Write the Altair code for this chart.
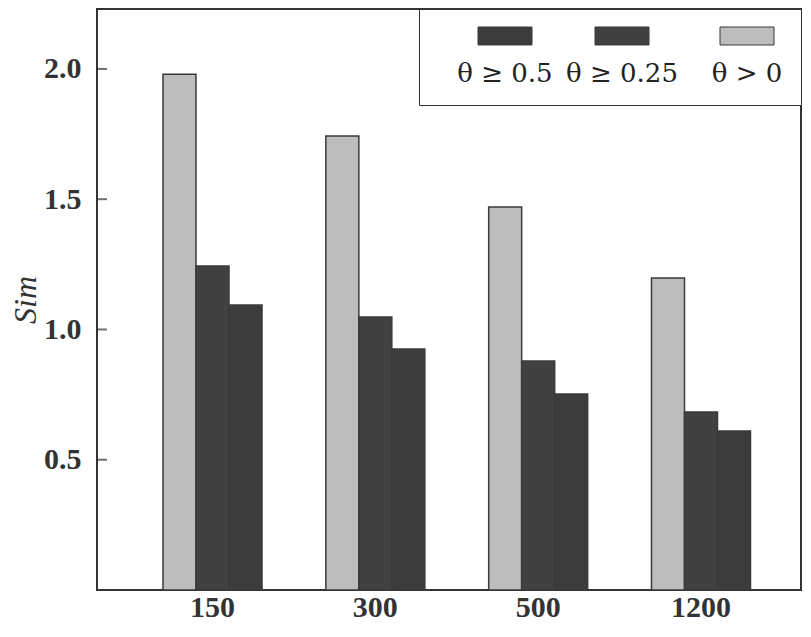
import altair as alt
import pandas as pd

sizes = ["150", "300", "500", "1200"]
series = ["θ > 0", "θ ≥ 0.25", "θ ≥ 0.5"]
legend_order = ["θ ≥ 0.5", "θ ≥ 0.25", "θ > 0"]
vals_gt0 = [1.98, 1.743, 1.47, 1.198]
vals_ge025 = [1.244, 1.048, 0.879, 0.683]
vals_ge05 = [1.094, 0.925, 0.752, 0.61]
tick_values = [0.5, 1.0, 1.5, 2.0]

rows = []
for i, s in enumerate(sizes):
    rows.append({"size": s, "series": series[0], "sim": vals_gt0[i]})
    rows.append({"size": s, "series": series[1], "sim": vals_ge025[i]})
    rows.append({"size": s, "series": series[2], "sim": vals_ge05[i]})
df = pd.DataFrame(rows)
ticks_df = pd.DataFrame({"v": tick_values})

FONT = "Liberation Serif"
INK = "#333333"

yscale = alt.Scale(domain=[0, 2.23], nice=False, zero=True)

# legend swatch: wide rectangle drawn above the entry centre so that the label sits below it
SWATCH = "M0.209,-1.015L1.821,-1.015L1.821,-0.478L0.209,-0.478Z"

bars = alt.Chart(df).mark_bar(stroke="#3a3a3a", strokeWidth=1.5).encode(
    x=alt.X("size:N", sort=sizes,
            scale=alt.Scale(paddingInner=0.392, paddingOuter=0.39, range=[2.5, 717]),
            axis=alt.Axis(title=None, labelAngle=0, ticks=False, domain=False, grid=False,
                          labelFont=FONT, labelFontWeight="bold", labelFontSize=30,
                          labelColor=INK, labelPadding=2, labelBaseline="top")),
    xOffset=alt.XOffset("series:N", sort=series,
                        scale=alt.Scale(paddingInner=0, paddingOuter=0)),
    y=alt.Y("sim:Q", scale=yscale,
            axis=alt.Axis(values=tick_values, format=".1f", ticks=False, domain=False,
                          grid=False, labelFont=FONT, labelFontWeight="bold",
                          labelFontSize=30, labelColor=INK, labelPadding=16,
                          title="Sim", titleFont=FONT, titleFontStyle="italic",
                          titleFontWeight="normal", titleFontSize=32, titleColor=INK,
                          titleBaseline="alphabetic", titlePadding=8)),
    color=alt.Color("series:N",
                    scale=alt.Scale(domain=legend_order,
                                    range=["#3c3c3c", "#414141", "#bdbdbd"]),
                    legend=alt.Legend(
                        title=None, orient="top-right", offset=0, direction="horizontal",
                        symbolType=SWATCH, symbolSize=4489, symbolStrokeWidth=1,
                        labelAlign="center", labelOffset=0, labelBaseline="top",
                        labelFont="DejaVu Serif", labelFontSize=26, labelColor="#222222",
                        columnPadding=1, padding=18, strokeColor=INK,
                        fillColor="white")),
)

ticks = alt.Chart(ticks_df).mark_tick(color=INK, thickness=2, size=10).encode(
    y=alt.Y("v:Q", scale=yscale),
    x=alt.value(5),
)

chart = alt.layer(bars, ticks).properties(
    width=704, height=581,
    autosize=alt.AutoSizeParams(type="none"),
    padding={"left": 89, "top": 1, "right": 2, "bottom": 35},
).configure_view(stroke=INK, strokeWidth=2)

chart.save("out.html", embed_options={"renderer": "svg", "actions": False})
